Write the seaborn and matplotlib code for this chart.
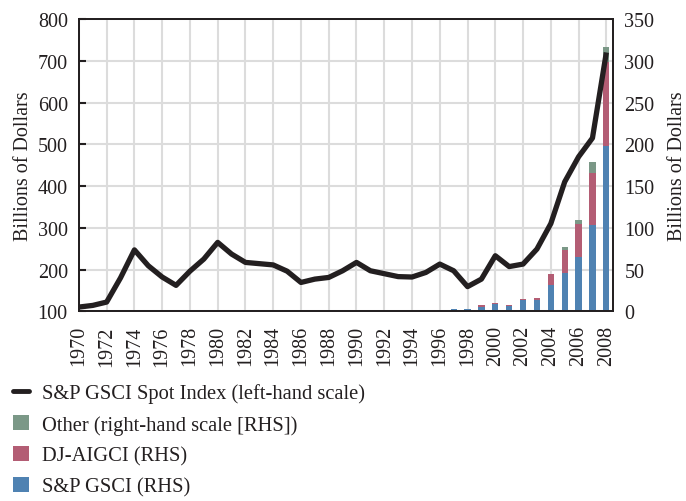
import numpy as np
import pandas as pd
import matplotlib
matplotlib.use("Agg")
import matplotlib.pyplot as plt
import seaborn as sns
from matplotlib.lines import Line2D
from matplotlib.patches import Patch

# S&P GSCI spot index (left-hand scale), 1970-2008
line_years = list(range(1970, 2009))
spot_index = [110, 114, 122, 180, 247, 209, 182, 162, 196, 225,
              265, 237, 217, 214, 211, 196, 169, 177, 181, 197,
              217, 197, 190, 183, 182, 193, 213, 197, 159, 177,
              233, 207, 213, 249, 310, 410, 470, 515, 720]

# index investment, billions of dollars (right-hand scale), 1996-2008
bar_years = list(range(1996, 2009))
gsci_rhs = [1.2, 3, 3, 5.5, 8.5, 6, 13, 13, 32, 46, 65, 103, 198]
djaig_rhs = [0, 0, 0, 1.5, 1.5, 1.6, 2, 3, 12.5, 27.5, 39, 62.5, 100.5]
other_rhs = [0, 0, 0, 0, 0, 0, 0, 0, 0, 3, 5, 13, 18]

x_ticks = list(range(1970, 2009, 2))
left_ticks = [100, 200, 300, 400, 500, 600, 700, 800]
right_ticks = [0, 50, 100, 150, 200, 250, 300, 350]

c_gsci = "#4f82b2"
c_dj = "#b35d74"
c_other = "#7b9887"
c_line = "#231f20"
fs = 14.5

sns.set_style("ticks")
plt.rcParams["font.family"] = ["Liberation Serif", "DejaVu Serif"]
plt.rcParams["text.color"] = c_line
plt.rcParams["axes.labelcolor"] = c_line
plt.rcParams["xtick.color"] = c_line
plt.rcParams["ytick.color"] = c_line

fig = plt.figure(figsize=(6.86, 5.02), dpi=100)
ax = fig.add_axes([0.115, 0.378, 0.779, 0.582])
# line axes sits on top of the bar axes
ax2 = ax.twinx()

bars = pd.DataFrame({"year": bar_years, "gsci": gsci_rhs,
                     "dj": djaig_rhs, "other": other_rhs})
bars["gsci_dj"] = bars["gsci"] + bars["dj"]
bars["total"] = bars["gsci_dj"] + bars["other"]

# stacked bars drawn as overlapping layers
for col, color in [("total", c_other), ("gsci_dj", c_dj), ("gsci", c_gsci)]:
    sns.barplot(data=bars, x="year", y=col, native_scale=True, width=0.45,
                color=color, saturation=1, errorbar=None, ax=ax,
                linewidth=0, zorder=2)

sns.lineplot(x=line_years, y=spot_index, ax=ax2, color=c_line,
             linewidth=3.8, solid_joinstyle="round", solid_capstyle="butt")

# bars -> right scale, line -> left scale
ax.set_ylim(0, 350)
ax.set_yticks(right_ticks)
ax.yaxis.tick_right()
ax.yaxis.set_label_position("right")
ax.set_ylabel("Billions of Dollars", fontsize=fs, labelpad=10)
ax.set_xlabel("")
ax.grid(True, color="#dcdcdc", linewidth=1.5, zorder=0)
ax.set_axisbelow(True)

ax2.set_ylim(100, 800)
ax2.set_yticks(left_ticks)
ax2.yaxis.tick_left()
ax2.yaxis.set_label_position("left")
ax2.set_ylabel("Billions of Dollars", fontsize=fs, labelpad=3)
ax2.grid(False)

ax.set_xlim(1970, 2008.5)
ax.set_xticks(x_ticks)
ax.set_xticklabels([str(y) for y in x_ticks], rotation=90, fontsize=fs)

ax.tick_params(axis="y", which="both", left=False, right=True,
               labelleft=False, labelright=True, length=0, pad=8,
               labelsize=fs)
ax.tick_params(axis="x", length=0, pad=10)
ax2.tick_params(axis="y", left=True, right=False, labelleft=True,
                labelright=False, direction="in", length=5, width=1.5,
                pad=8, labelsize=fs)

for a in (ax, ax2):
    for s in a.spines.values():
        s.set_visible(True)
        s.set_linewidth(1.3)
        s.set_color(c_line)

handles = [
    Line2D([0], [0], color=c_line, linewidth=3.5),
    Patch(facecolor=c_other, edgecolor="none"),
    Patch(facecolor=c_dj, edgecolor="none"),
    Patch(facecolor=c_gsci, edgecolor="none"),
]
labels = [
    "S&P GSCI Spot Index (left-hand scale)",
    "Other (right-hand scale [RHS])",
    "DJ-AIGCI (RHS)",
    "S&P GSCI (RHS)",
]
fig.legend(handles, labels, loc="upper left", bbox_to_anchor=(0.019, 0.234),
           frameon=False, fontsize=14.8, handlelength=0.78, handleheight=0.72,
           handletextpad=0.62, labelspacing=0.56, borderpad=0,
           borderaxespad=0)

fig.savefig("out.png", dpi=100)
